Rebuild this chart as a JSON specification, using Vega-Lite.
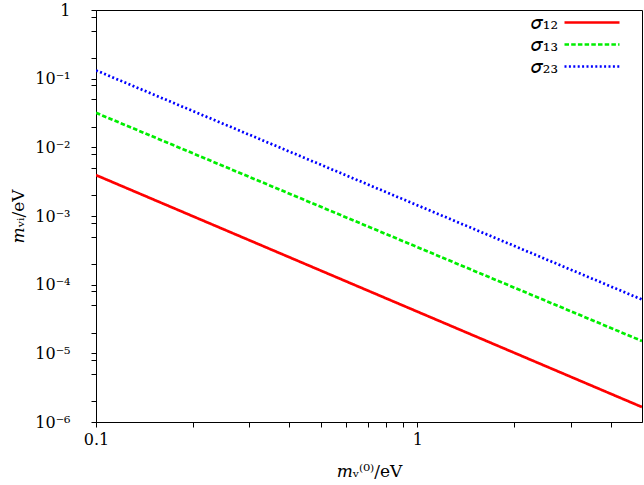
{
  "$schema": "https://vega.github.io/schema/vega-lite/v6.json",
  "autosize": "none",
  "width": 546,
  "height": 412,
  "padding": {"left": 96, "top": 10, "right": 2, "bottom": 63},
  "background": "white",
  "config": {
    "view": {"stroke": "black", "strokeWidth": 1},
    "axis": {
      "grid": false,
      "domainColor": "black",
      "labelFont": "DejaVu Serif",
      "labelFontSize": 16,
      "labelColor": "black",
      "titleFont": "DejaVu Serif",
      "titleFontSize": 17,
      "titleFontWeight": "normal",
      "titleColor": "black",
      "labelOverlap": false,
      "labelFlush": false
    }
  },
  "datasets": {
    "lines": [
      {"series": "𝜎₁₂", "x": 0.1, "y": 0.00394},
      {"series": "𝜎₁₂", "x": 5, "y": 0.00000165},
      {"series": "𝜎₁₃", "x": 0.1, "y": 0.0318},
      {"series": "𝜎₁₃", "x": 5, "y": 0.0000151},
      {"series": "𝜎₂₃", "x": 0.1, "y": 0.132},
      {"series": "𝜎₂₃", "x": 5, "y": 0.0000607}
    ]
  },
  "data": {"name": "lines"},
  "mark": {"type": "line", "strokeWidth": 2.7, "clip": true},
  "encoding": {
    "x": {
      "field": "x", "type": "quantitative",
      "scale": {"type": "log", "domain": [0.1, 5], "nice": false},
      "axis": {
        "title": "𝑚ᵥ⁽⁰⁾/eV",
        "values": [0.1, 0.2, 0.3, 0.4, 0.5, 0.6, 0.7, 0.8, 0.9, 1, 2, 3, 4],
        "labelExpr": "datum.value == 0.1 ? '0.1' : (datum.value == 1 ? '1' : '')",
        "ticks": true,
        "tickColor": "black",
        "tickWidth": 1,
        "tickSize": 5,
        "labelPadding": 4,
        "titleX": 273,
        "titleY": 54,
        "titleBaseline": "alphabetic",
        "titleAlign": "center"
      }
    },
    "y": {
      "field": "y", "type": "quantitative",
      "scale": {"type": "log", "domain": [0.000001, 1], "nice": false},
      "axis": {
        "title": "𝑚ᵥᵢ/eV",
        "values": [0.000001, 0.000002, 0.000005, 0.000008, 0.00001, 0.00002, 0.00005, 0.00008, 0.0001, 0.0002, 0.0005, 0.0008, 0.001, 0.002, 0.005, 0.008, 0.01, 0.02, 0.05, 0.08, 0.1, 0.2, 0.5, 0.8, 1],
        "labelExpr": "abs(log(datum.value)/LN10 - round(log(datum.value)/LN10)) < 0.001 ? (round(log(datum.value)/LN10) == 0 ? '1' : '10⁻' + ['', '¹', '²', '³', '⁴', '⁵', '⁶'][-round(log(datum.value)/LN10)]) : ''",
        "ticks": true,
        "tickColor": "black",
        "tickWidth": 1,
        "tickSize": 5,
        "labelPadding": 21,
        "titleX": -73,
        "titleY": 206,
        "titleAngle": 270,
        "titleBaseline": "alphabetic",
        "titleAlign": "center"
      }
    },
    "color": {
      "field": "series", "type": "nominal",
      "scale": {"domain": ["𝜎₁₂", "𝜎₁₃", "𝜎₂₃"], "range": ["#ff0000", "#00ee00", "#0000ff"]},
      "legend": {
        "title": null, "orient": "none", "legendX": 484.5, "legendY": 1,
        "symbolType": "M-2.75,0H2.75", "symbolSize": 400, "symbolStrokeWidth": 2.7,
        "rowPadding": -4, "padding": 0,
        "labelAlign": "right", "labelOffset": -45.5,
        "labelFont": "DejaVu Serif", "labelFontSize": 19, "labelColor": "black"
      }
    },
    "strokeDash": {
      "field": "series", "type": "nominal",
      "scale": {"domain": ["𝜎₁₂", "𝜎₁₃", "𝜎₂₃"], "range": [[1, 0], [4.5, 2.2], [2, 2.4]]},
      "legend": {
        "title": null, "orient": "none", "legendX": 484.5, "legendY": 1,
        "symbolType": "M-2.75,0H2.75", "symbolSize": 400, "symbolStrokeWidth": 2.7,
        "rowPadding": -4, "padding": 0,
        "labelAlign": "right", "labelOffset": -45.5,
        "labelFont": "DejaVu Serif", "labelFontSize": 19, "labelColor": "black"
      }
    }
  }
}
